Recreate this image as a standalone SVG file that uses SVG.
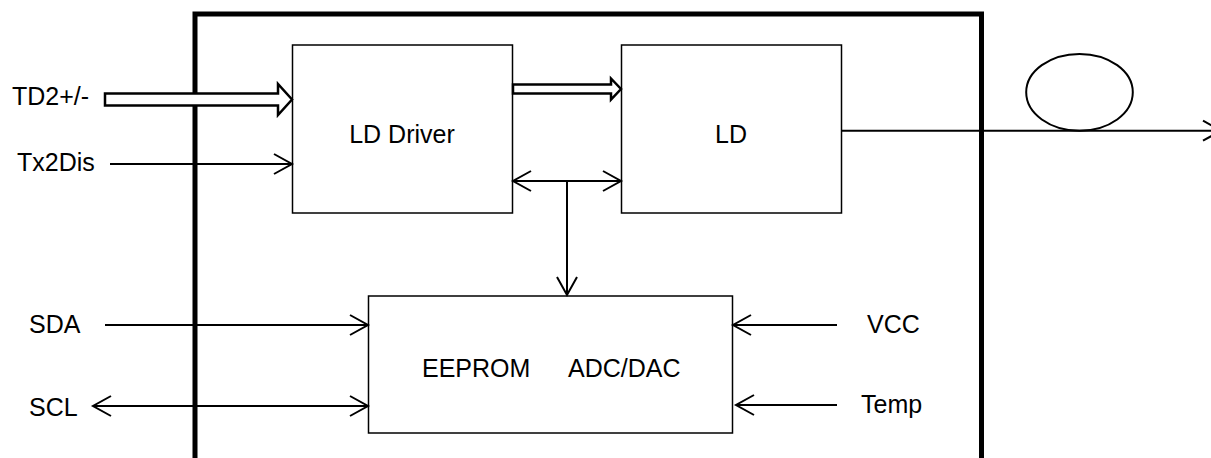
<svg xmlns="http://www.w3.org/2000/svg" width="1211" height="458" viewBox="0 0 1211 458">
<defs>
<style>
.box{fill:#fff;stroke:#000;stroke-width:1.5}
.frame{fill:none;stroke:#000;stroke-width:5}
.ln{fill:none;stroke:#000;stroke-width:2}
.hollow{fill:#fff;stroke:#000;stroke-width:2.5;stroke-linejoin:miter}
.t{font-family:"Liberation Sans",Arial,sans-serif;font-size:25px;fill:#000}
</style>
<marker id="ah" viewBox="-1 -1 22 24" refX="18" refY="10" markerWidth="22" markerHeight="24" markerUnits="userSpaceOnUse" orient="auto-start-reverse" overflow="visible">
<path d="M0,0 L18,10 L0,20" fill="none" stroke="#000" stroke-width="2"/>
</marker>
</defs>
<rect width="1211" height="458" fill="#fff"/>
<rect class="frame" x="195" y="14" width="786.5" height="520"/>
<g id="ld-driver">
<rect class="box" x="292.5" y="45" width="220" height="168"/>
<text class="t" x="402" y="143" text-anchor="middle">LD Driver</text>
</g>
<g id="ld">
<rect class="box" x="621.5" y="45" width="220" height="168"/>
<text class="t" x="731" y="143" text-anchor="middle">LD</text>
</g>
<g id="eeprom">
<rect class="box" x="368.5" y="296" width="364" height="137"/>
<text class="t" x="422" y="377">EEPROM</text>
<text class="t" x="568" y="377">ADC/DAC</text>
</g>
<g id="fiber">
<ellipse cx="1079.5" cy="92.3" rx="53.3" ry="38.4" fill="none" stroke="#000" stroke-width="2"/>
</g>
<g id="labels">
<text class="t" x="12" y="105">TD2+/-</text>
<text class="t" x="17" y="171">Tx2Dis</text>
<text class="t" x="29" y="333">SDA</text>
<text class="t" x="29" y="416">SCL</text>
<text class="t" x="867" y="333">VCC</text>
<text class="t" x="861" y="413">Temp</text>
</g>
<g id="connectors">
<polygon class="hollow" points="105,93.5 278,93.5 278,84 292,99.5 278,115 278,105.5 105,105.5"/>
<polygon class="hollow" points="513,84.5 611,84.5 611,78.5 621,89 611,99.5 611,93.5 513,93.5"/>
<line class="ln" x1="110" y1="164" x2="292" y2="164" marker-end="url(#ah)"/>
<line class="ln" x1="513" y1="181" x2="621" y2="181" marker-start="url(#ah)" marker-end="url(#ah)"/>
<line class="ln" x1="567" y1="181" x2="567" y2="295" marker-end="url(#ah)"/>
<line class="ln" x1="105" y1="325" x2="368" y2="325" marker-end="url(#ah)"/>
<line class="ln" x1="93" y1="406" x2="368" y2="406" marker-start="url(#ah)" marker-end="url(#ah)"/>
<line class="ln" x1="837" y1="325" x2="733" y2="325" marker-end="url(#ah)"/>
<line class="ln" x1="837" y1="405" x2="736" y2="405" marker-end="url(#ah)"/>
<line class="ln" x1="842" y1="130.7" x2="1221" y2="130.7" marker-end="url(#ah)"/>
</g>
</svg>
